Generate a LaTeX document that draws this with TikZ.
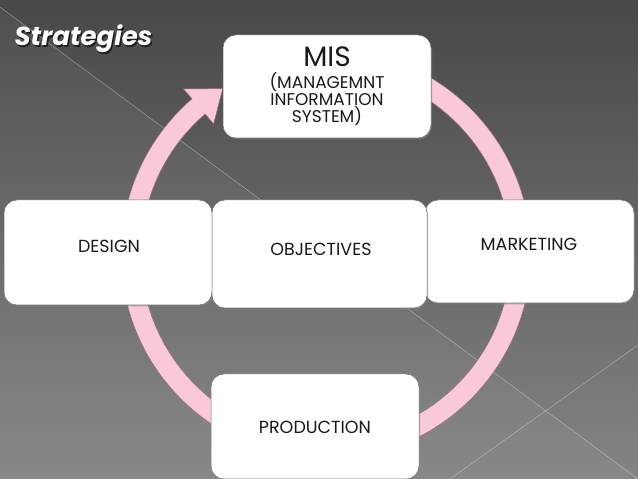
\documentclass[tikz,border=0pt]{standalone}
\usepackage{fontspec}
\setmainfont{Poppins}
\usetikzlibrary{arrows.meta,shadows}
\definecolor{ringpink}{RGB}{249,200,217}
\definecolor{ringedge}{RGB}{150,110,122}
\definecolor{bgtop}{RGB}{72,72,72}
\definecolor{bgbot}{RGB}{132,132,132}
\definecolor{boxtext}{RGB}{25,25,25}
\tikzset{
  card/.style={draw=black!55, line width=0.5pt, fill=white, rounded corners=13pt,
    drop shadow={opacity=0.55, shadow xshift=1pt, shadow yshift=-1.5pt},
    text=boxtext, font=\fontsize{17}{17}\selectfont, align=center,
    inner sep=0pt},
  cardtext/.style={text=boxtext, font=\fontsize{17.5}{17}\selectfont, inner sep=0pt},
  ring/.style={fill=ringpink, draw=ringedge, line width=0.5pt},
  bgline/.style={white, opacity=0.35, line width=0.6pt},
}
\begin{document}
\begin{tikzpicture}[x=1pt,y=1pt]
\useasboundingbox (0,0) rectangle (638,479);
% background
\shade[top color=bgtop, bottom color=bgbot] (0,0) rectangle (638,479);
\fill[white, opacity=0.04] (0,472) -- (638,0) -- (0,0) -- cycle;
\draw[bgline] (0,472) -- (638,0);
\draw[bgline] (450,0) -- (638,134);
% title
\node[text=black, opacity=0.6, font=\fontsize{26}{28}\selectfont\bfseries\itshape] (titleshadow) at (85,438.5) {Strategies};
\node[text=white, font=\fontsize{26}{28}\selectfont\bfseries\itshape] (title) at (83.5,440) {Strategies};
% circular arrow
\coordinate (hub) at (326,225);
\begin{scope}[shift={(hub)}]
\path[ring] (95:205) arc[start angle=95, end angle=-229.2, radius=205]
  -- (-229.2:218) -- (-238:195) -- (-229.2:172) -- (-229.2:185)
  arc[start angle=-229.2, end angle=95, radius=185] -- cycle;
\end{scope}
% cards
\node[card, minimum width=208pt, minimum height=103pt] (mis) at (327,392.5)
  {{\fontsize{28}{30}\selectfont MIS}\\[5pt](MANAGEMNT\\INFORMATION\\SYSTEM)};
\node[card, minimum width=208pt, minimum height=105pt] (design) at (108,226.5) {};
\node[card, minimum width=209pt, minimum height=103pt] (marketing) at (529.5,227.5) {};
\node[card, minimum width=215pt, minimum height=108pt] (objectives) at (319.5,225) {};
\node[card, minimum width=208pt, minimum height=105pt] (production) at (315,52.5) {};
\node[cardtext] (designtext) at (109,233) {DESIGN};
\node[cardtext] (objectivestext) at (321,230) {OBJECTIVES};
\node[cardtext] (marketingtext) at (529,235) {MARKETING};
\node[cardtext] (productiontext) at (315,52) {PRODUCTION};
\end{tikzpicture}
\end{document}
